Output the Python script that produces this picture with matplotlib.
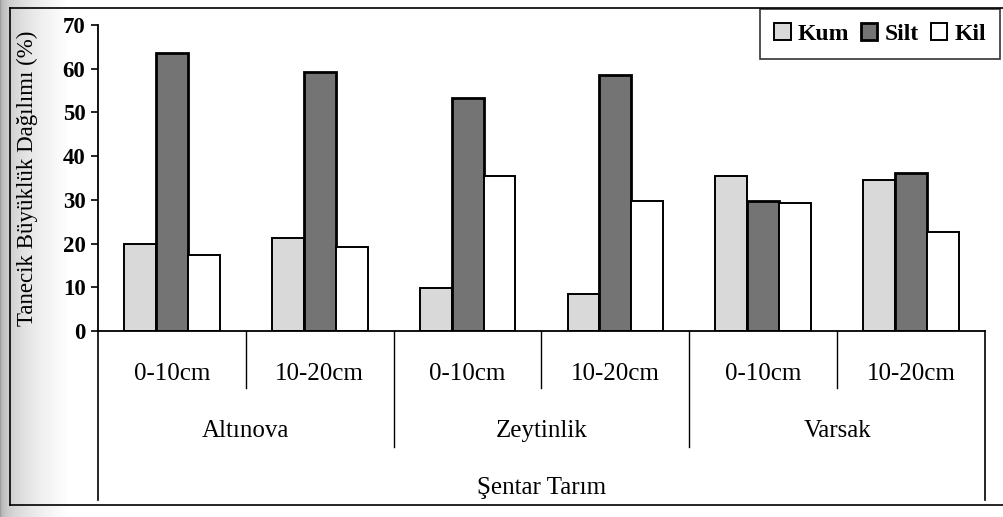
import numpy as np
import matplotlib
matplotlib.use("Agg")
import matplotlib.pyplot as plt
from matplotlib.lines import Line2D

plt.rcParams['font.family'] = ['Liberation Serif', 'DejaVu Serif']

depths = ["0-10cm", "10-20cm", "0-10cm", "10-20cm", "0-10cm", "10-20cm"]
sites = ["Altınova", "Zeytinlik", "Varsak"]
owner = "Şentar Tarım"
series = ["Kum", "Silt", "Kil"]

kum = [20.0, 21.3, 9.8, 8.5, 35.5, 34.5]
silt = [63.6, 59.3, 53.3, 58.6, 29.8, 36.2]
kil = [17.4, 19.2, 35.5, 29.7, 29.3, 22.7]

W, H = 1004, 517
fig = plt.figure(figsize=(W / 100, H / 100), dpi=100)

# scanner shadow on the left edge
bg = fig.add_axes([0, 0, 1, 1], zorder=-5)
xs = np.arange(100)
grad = np.tile(np.clip(0.62 + 0.38 * (xs / 70.0) ** 0.35, 0, 1), (2, 1))
bg.imshow(grad, cmap="gray", vmin=0, vmax=1, aspect="auto", extent=[0, 1, 0, 1])
bg.set_xlim(0, W / 100)
bg.set_ylim(0, 1)
bg.axis("off")

# outer frame of the chart area
def fx(p):
    return p / W

def fy(p):
    return 1 - p / H

for xa, ya, xb, yb in [(10, 8, 1004, 8), (10, 8, 10, 505), (10, 505, 1004, 505)]:
    fig.add_artist(Line2D([fx(xa), fx(xb)], [fy(ya), fy(yb)], color="black", lw=1.2))

L, R, T, B = 98, 985, 25, 331
ax = fig.add_axes([fx(L), fy(B), (R - L) / W, (B - T) / H])
ax.set_facecolor("white")

x = np.arange(len(depths))
bw = 0.216
ax.bar(x - bw, kum, bw, color="#d9d9d9", edgecolor="black", lw=1.4, label=series[0])
ax.bar(x, silt, bw, color="#747474", edgecolor="black", lw=2.0, label=series[1])
ax.bar(x + bw, kil, bw, color="white", edgecolor="black", lw=1.4, label=series[2])

ax.set_xlim(-0.5, len(depths) - 0.5)
ax.set_ylim(0, 70)
ax.set_yticks(range(0, 71, 10))
ax.set_xticks([])
ax.tick_params(axis="y", direction="out", length=5, width=1.2, pad=4, labelsize=16.5)
for t in ax.get_yticklabels():
    t.set_fontweight("bold")
for s in ["top", "right"]:
    ax.spines[s].set_visible(False)
ax.spines["left"].set_linewidth(1.3)
ax.spines["bottom"].set_linewidth(1.3)

ax.set_ylabel("Tanecik Büyüklük Dağılımı (%)", fontsize=16.5)
ax.yaxis.set_label_coords(-(L - 38) / (R - L), 0.5)

# category table below the axis
tr = ax.get_xaxis_transform()
def ay(p):
    return (B - p) / (B - T)

for i in range(1, len(depths)):
    bottom = 447 if i % 2 == 0 else 388
    ax.plot([i - 0.5, i - 0.5], [0, ay(bottom)], transform=tr, color="black", lw=1.0, clip_on=False)
for xe in [-0.5, len(depths) - 0.5]:
    ax.plot([xe, xe], [0, ay(500)], transform=tr, color="black", lw=1.2, clip_on=False)

for i, d in enumerate(depths):
    ax.text(i, ay(374), d, transform=tr, ha="center", va="center", fontsize=18)
for j, s in enumerate(sites):
    ax.text(2 * j + 0.5, ay(431), s, transform=tr, ha="center", va="center", fontsize=18)
ax.text((len(depths) - 1) / 2, ay(488), owner, transform=tr, ha="center", va="center", fontsize=18)

leg = ax.legend(loc="upper right", bbox_to_anchor=(fx(1000), fy(9)), bbox_transform=fig.transFigure,
                ncol=3, frameon=True, fancybox=False, edgecolor="black", handlelength=0.7,
                handleheight=0.7, columnspacing=0.5, handletextpad=0.3, borderpad=0.6,
                borderaxespad=0, prop={"size": 17, "weight": "bold"})
leg.get_frame().set_linewidth(1.2)

fig.savefig("out.png", dpi=100)
